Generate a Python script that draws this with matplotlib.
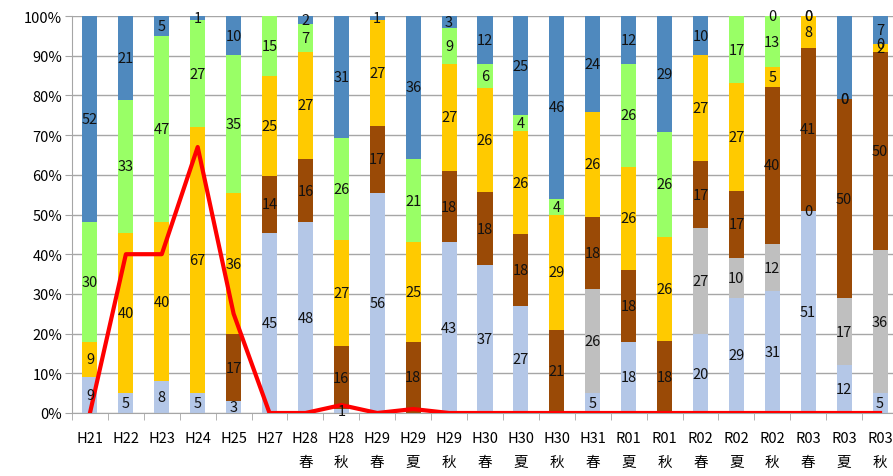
import matplotlib
matplotlib.use("Agg")
import matplotlib.pyplot as plt
from matplotlib.ticker import FuncFormatter, MultipleLocator
import numpy as np

plt.rcParams['font.family'] = ['Noto Sans CJK JP', 'DejaVu Sans']

nan = np.nan
categories = ["H21", "H22", "H23", "H24", "H25", "H27", "H28\n春", "H28\n秋", "H29\n春",
              "H29\n夏", "H29\n秋", "H30\n春", "H30\n夏", "H30\n秋", "H31\n春", "R01\n夏",
              "R01\n秋", "R02\n春", "R02\n夏", "R02\n秋", "R03\n春", "R03\n夏", "R03\n秋"]

# stacked segments, bottom to top (nan = empty cell, no label)
light_blue = [9, 5, 8, 5, 3, 45, 48, 1, 56, nan, 43, 37, 27, nan, 5, 18, nan, 20, 29, 31, 51, 12, 5]
gray = [nan, nan, nan, nan, nan, nan, nan, nan, nan, nan, nan, nan, nan, nan, 26, nan, nan, 27, 10, 12, 0, 17, 36]
brown = [nan, nan, nan, nan, 17, 14, 16, 16, 17, 18, 18, 18, 18, 21, 18, 18, 18, 17, 17, 40, 41, 50, 50]
orange = [9, 40, 40, 67, 36, 25, 27, 27, 27, 25, 27, 26, 26, 29, 26, 26, 26, 27, 27, 5, 8, 0, 2]
green = [30, 33, 47, 27, 35, 15, 7, 26, nan, 21, 9, 6, 4, 4, nan, 26, 26, nan, 17, 13, 0, 0, 0]
steel_blue = [52, 21, 5, 1, 10, nan, 2, 31, 1, 36, 3, 12, 25, 46, 24, 12, 29, 10, nan, 0, 0, 21, 7]

# red line, in percent
red_line = [0, 40, 40, 67, 25, 0, 0, 2, 0, 1, 0, 0, 0, 0, 0, 0, 0, 0, 0, 0, 0, 0, 0]

series = [light_blue, gray, brown, orange, green, steel_blue]
colors = ["#B4C7E7", "#BFBFBF", "#9A4A06", "#FFCA00", "#99FF66", "#4F89BE"]
# the R03 summer steel-blue segment carries no label
hide_label = {(5, 21)}

fig = plt.figure(figsize=(8.93, 4.77), dpi=100)
ax = fig.add_axes([72 / 893, 63 / 477, 826 / 893, 397 / 477])

data = np.array(series, dtype=float)
totals = np.nansum(data, axis=0)
x = np.arange(len(categories))
bottom = np.zeros(len(categories))
for si, (vals, col) in enumerate(zip(data, colors)):
    h = np.nan_to_num(vals) / totals
    ax.bar(x, h, bottom=bottom, width=0.42, color=col, zorder=2)
    for i, v in enumerate(vals):
        if np.isnan(v) or (si, i) in hide_label:
            continue
        ax.text(x[i], bottom[i] + h[i] / 2, f"{int(v)}", ha="center", va="center",
                fontsize=10.5, color="#111111", zorder=4)
    bottom += h

ax.plot(x, np.array(red_line) / 100, color="#FF0000", lw=3, zorder=3)

ax.set_xlim(-0.5, len(categories) - 0.5)
ax.set_ylim(0, 1)
ax.yaxis.set_major_locator(MultipleLocator(0.1))
ax.yaxis.set_major_formatter(FuncFormatter(lambda v, p: f"{v * 100:.0f}%"))
ax.grid(axis="y", color="#A6A6A6", lw=1, zorder=0)
ax.set_xticks(x)
ax.set_xticklabels(categories, fontsize=10.5, linespacing=1.9, va="top")
ax.set_xticks(np.arange(-0.5, len(categories)), minor=True)
ax.tick_params(axis="x", which="major", length=0, pad=13)
ax.tick_params(axis="x", which="minor", length=5, color="#A6A6A6")
ax.tick_params(axis="y", length=5, color="#A6A6A6", labelsize=10.5, pad=2)
for s in ["top", "right"]:
    ax.spines[s].set_visible(False)
for s in ["left", "bottom"]:
    ax.spines[s].set_color("#A6A6A6")

fig.savefig("out.png", dpi=100)
